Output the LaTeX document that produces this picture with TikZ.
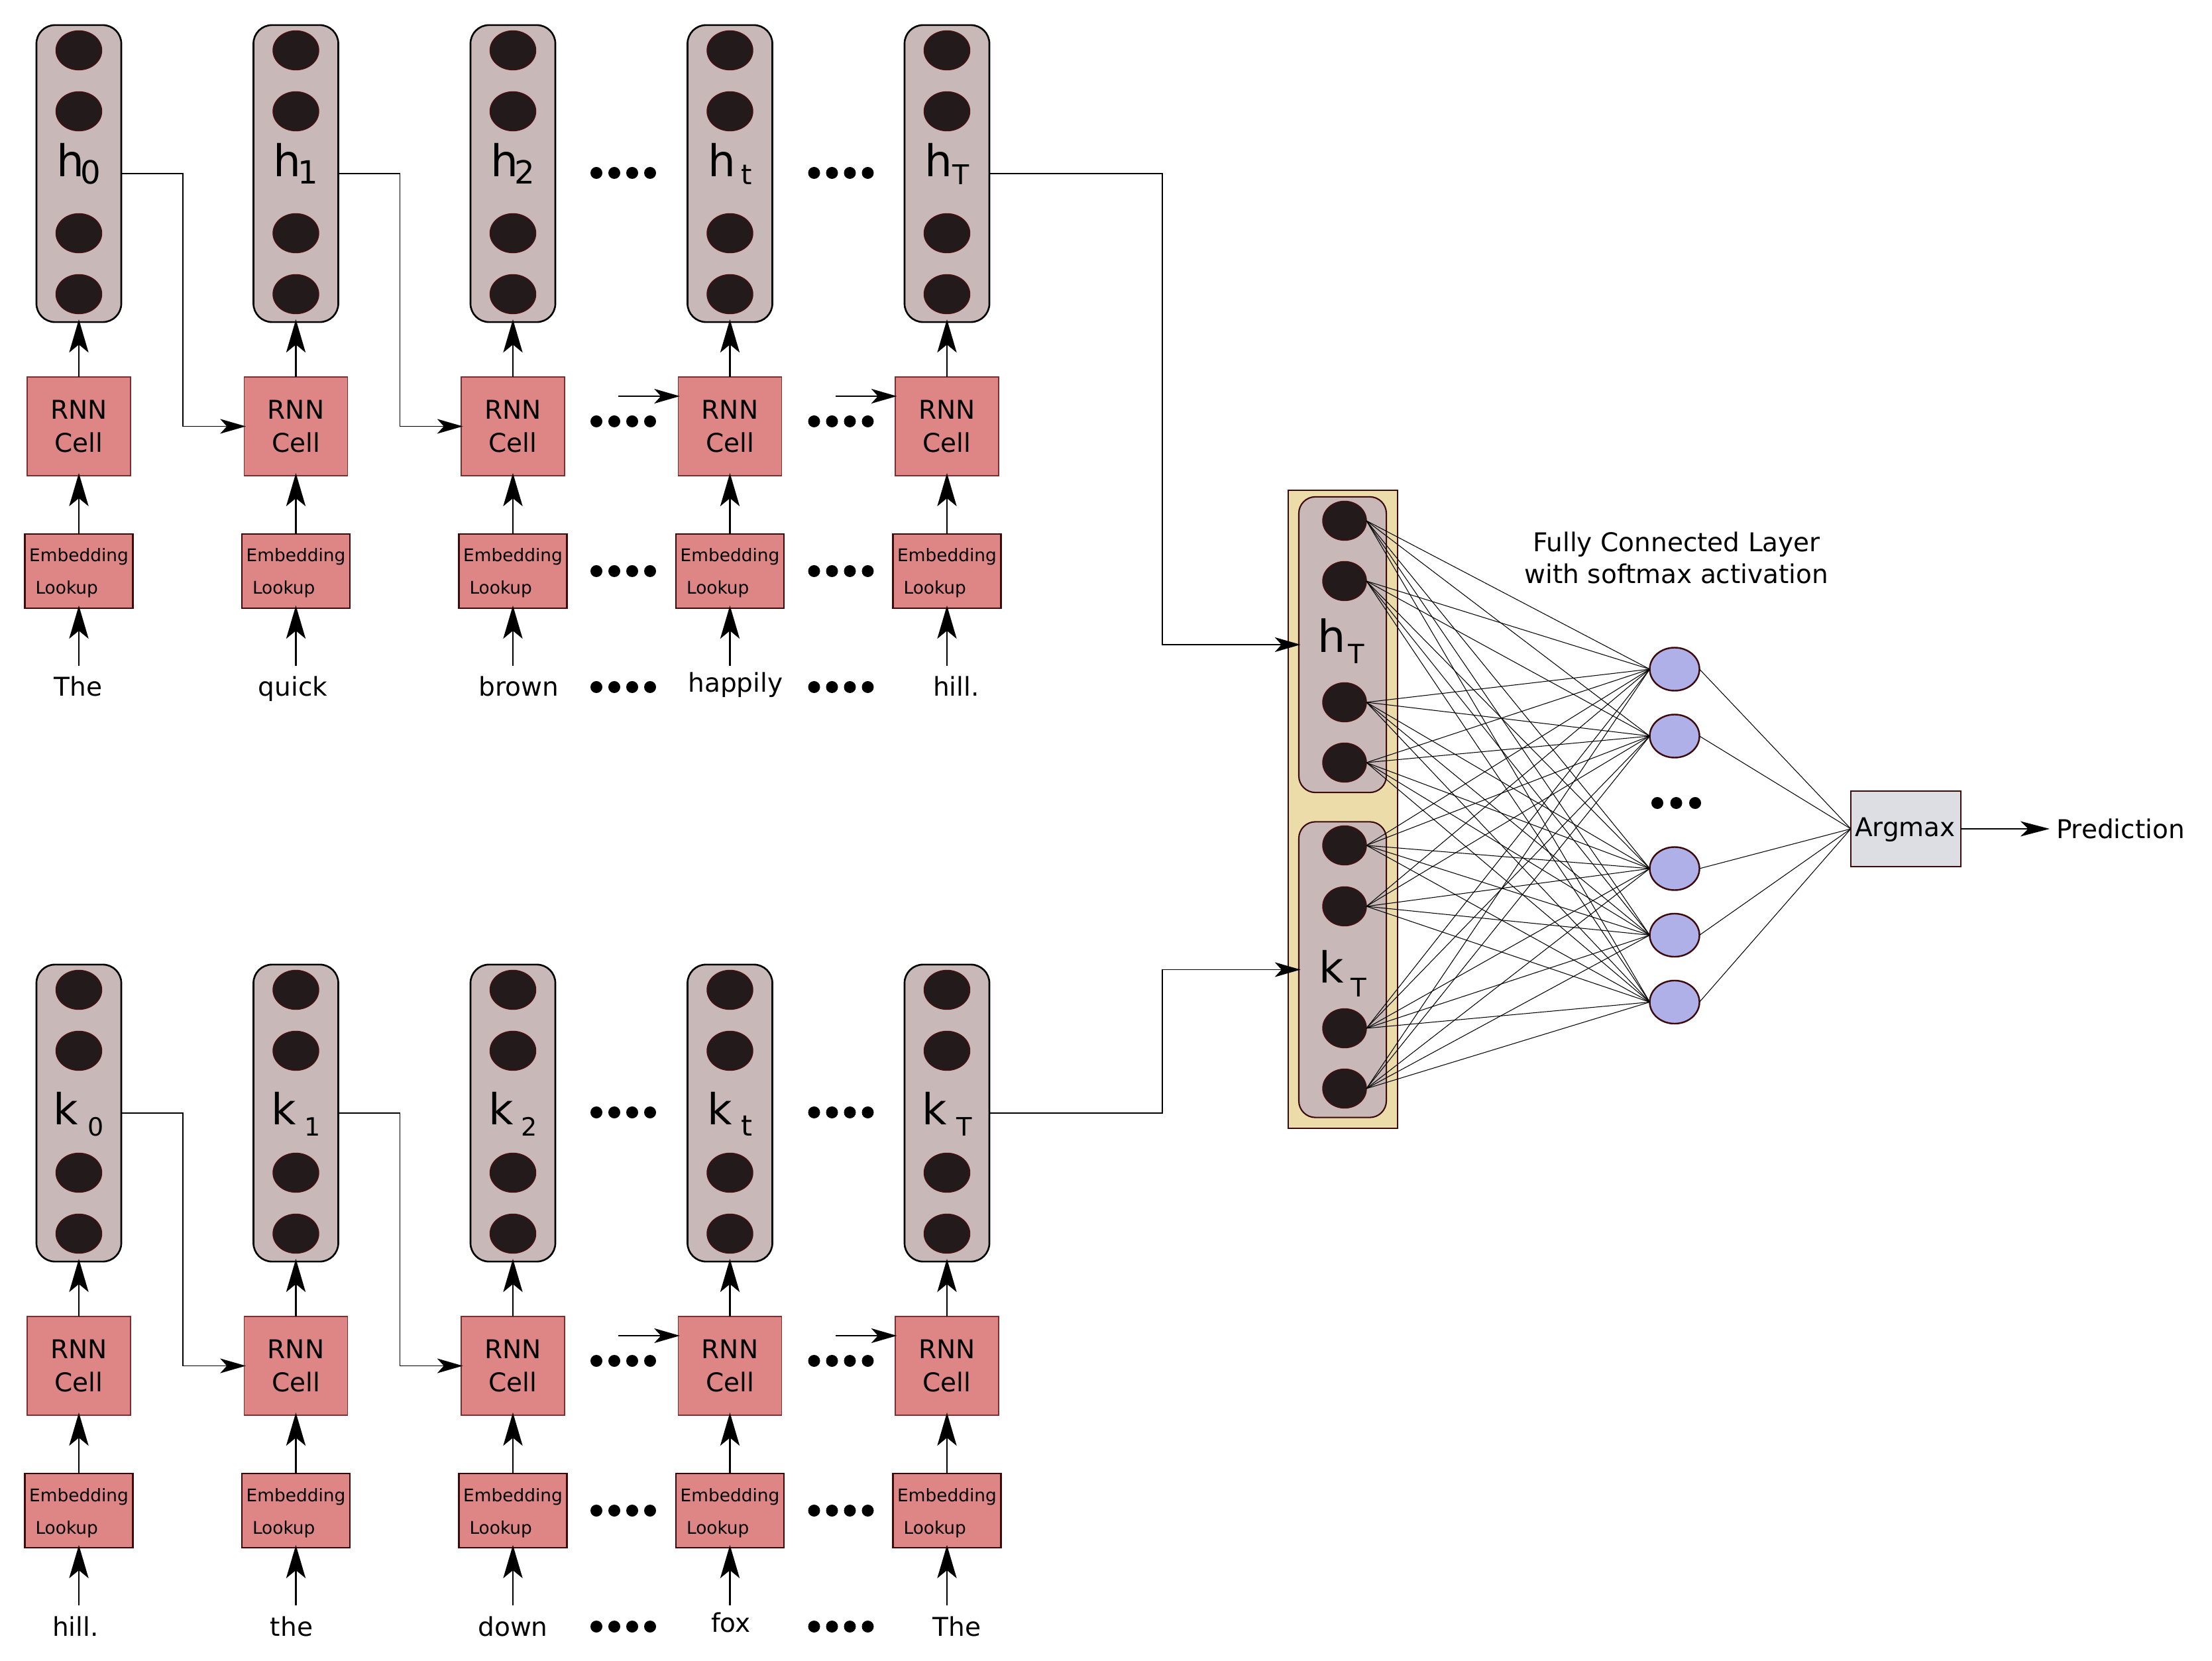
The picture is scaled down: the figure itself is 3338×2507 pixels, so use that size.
\documentclass[tikz,border=0pt]{standalone}
\usepackage{fontspec}
\setmainfont{DejaVu Sans}
\usetikzlibrary{arrows.meta,shapes.geometric}
\definecolor{memgray}{HTML}{C8B8B8}
\definecolor{neuron}{HTML}{231A1C}
\definecolor{neuronedge}{HTML}{4A0E0E}
\definecolor{rnnpink}{HTML}{DE8686}
\definecolor{rnnedge}{HTML}{7A3030}
\definecolor{darkmaroon}{HTML}{3C0A0A}
\definecolor{tanfill}{HTML}{ECDCAA}
\definecolor{outblue}{HTML}{AFB0E8}
\definecolor{argbg}{HTML}{DCDEE3}
\newcommand{\memlbl}[6]{{\fontsize{#1}{#1}\selectfont #2\hspace{#3}\raisebox{-#5}{\fontsize{#4}{#4}\selectfont #6}}}
\tikzset{
  every node/.style={inner sep=0pt, outer sep=0pt},
  membox/.style={draw=black, line width=0.75pt, fill=memgray, rounded corners=0.28cm, minimum width=1.28cm, minimum height=4.48cm},
  innerbox/.style={draw=darkmaroon, line width=0.6pt, fill=memgray, rounded corners=0.25cm, minimum width=1.32cm, minimum height=4.46cm},
  tanbox/.style={draw=darkmaroon, line width=0.6pt, fill=tanfill, minimum width=1.65cm, minimum height=9.63cm},
  neuronnode/.style={ellipse, draw=neuronedge, line width=0.4pt, fill=neuron, minimum width=0.69cm, minimum height=0.59cm},
  neuronsmall/.style={ellipse, draw=neuronedge, line width=0.4pt, fill=neuron, minimum width=0.66cm, minimum height=0.59cm},
  rnnbox/.style={draw=rnnedge, line width=0.35pt, fill=rnnpink, minimum width=1.56cm, minimum height=1.49cm, align=center, font=\fontsize{11.1pt}{14.2pt}\selectfont},
  embbox/.style={draw=darkmaroon, line width=0.65pt, fill=rnnpink, minimum width=1.63cm, minimum height=1.12cm},
  embtxt/.style={font=\fontsize{7.5pt}{9pt}\selectfont},
  wordtxt/.style={font=\fontsize{11.1pt}{13pt}\selectfont},
  outnode/.style={ellipse, draw=darkmaroon, line width=0.7pt, fill=outblue, minimum width=0.75cm, minimum height=0.65cm},
  argbox/.style={draw=darkmaroon, line width=0.6pt, fill=argbg, minimum width=1.66cm, minimum height=1.14cm},
  uparrow/.style={-{Stealth[length=14.2pt,width=8.3pt,inset=3.4pt]}, line width=0.72pt, shorten >=-0.04cm},
  thinarrow/.style={-{Stealth[length=11pt,width=6.3pt,inset=2.85pt]}, line width=0.5pt, shorten >=-0.025cm},
  predarrow/.style={-{Stealth[length=12.5pt,width=6.5pt,inset=3.3pt]}, line width=0.65pt},
  fcline/.style={line width=0.3pt, draw=black},
  dotfill/.style={fill=black}
}
\begin{document}
\begin{tikzpicture}[x=0.01cm, y=-0.01cm]
\useasboundingbox (0,0) rectangle (3338,2507);

% ---------- two encoder rows ----------
\foreach \rw/\dy in {t/0, b/1418} {
  \foreach \i in {0,...,4} {
    \pgfmathsetmacro\cx{119+327.5*\i}
    \node[membox] (mem\rw\i) at (\cx, 262+\dy) {};
    \foreach \jj/\yy in {1/76, 2/168, 3/352, 4/444} {
      \node[neuronnode] (n\rw\i\jj) at (\cx, \yy+\dy) {};
    }
    \node[rnnbox] (rnn\rw\i) at (\cx, 643.5+\dy) {RNN\\Cell};
    \node[embbox] (emb\rw\i) at (\cx, 862+\dy) {};
    \node[embtxt, anchor=base] (embA\rw\i) at (\cx, 848+\dy) {Embedding};
    \node[embtxt, anchor=base west] (embB\rw\i) at (\cx-65.5, 897+\dy) {Lookup};
    \coordinate (in\rw\i) at (\cx, 1005+\dy);
    \draw[uparrow] (rnn\rw\i.north) -- (mem\rw\i.south);
    \draw[uparrow] (emb\rw\i.north) -- (rnn\rw\i.south);
    \draw[uparrow] (in\rw\i) -- (emb\rw\i.south);
  }
  % recurrent connections
  \draw[thinarrow] (mem\rw0.east) -- ++(93,0) |- (rnn\rw1.west);
  \draw[thinarrow] (mem\rw1.east) -- ++(93,0) |- (rnn\rw2.west);
  \coordinate (sa\rw) at (933, 598+\dy);
  \coordinate (sb\rw) at (1261, 598+\dy);
  \draw[thinarrow] (sa\rw) -- (sa\rw -| rnn\rw3.west);
  \draw[thinarrow] (sb\rw) -- (sb\rw -| rnn\rw4.west);
  % ellipsis dots
  \foreach \xc in {940.5, 1269} {
    \foreach \yy in {261, 636, 862, 1037} {
      \foreach \kk in {-40.5, -13.5, 13.5, 40.5} {
        \fill[dotfill] (\xc+\kk, \yy+\dy) circle[radius=0.09cm];
      }
    }
  }
}

% ---------- labels of the hidden states ----------
\node[anchor=base] (lt0) at (119, 267) {\memlbl{18.8pt}{h}{-1.5pt}{13.7pt}{2.85pt}{0}};
\node[anchor=base] (lt1) at (446.5, 267) {\memlbl{18.8pt}{h}{-1.5pt}{13.7pt}{2.85pt}{1}};
\node[anchor=base] (lt2) at (774, 267) {\memlbl{18.8pt}{h}{-1.5pt}{13.7pt}{2.85pt}{2}};
\node[anchor=base] (lt3) at (1101.5, 267) {\memlbl{18.8pt}{h}{2.3pt}{11.9pt}{3.4pt}{t}};
\node[anchor=base] (lt4) at (1429, 267) {\memlbl{18.8pt}{h}{0pt}{11.7pt}{3.4pt}{T}};
\node[anchor=base] (lb0) at (119, 1697) {\memlbl{18.4pt}{k}{4.1pt}{10.8pt}{5.1pt}{0}};
\node[anchor=base] (lb1) at (446.5, 1697) {\memlbl{18.4pt}{k}{3.7pt}{10.8pt}{5.1pt}{1}};
\node[anchor=base] (lb2) at (774, 1697) {\memlbl{18.4pt}{k}{3.1pt}{10.8pt}{5.1pt}{2}};
\node[anchor=base] (lb3) at (1101.5, 1697) {\memlbl{18.4pt}{k}{4pt}{12.3pt}{5.1pt}{t}};
\node[anchor=base] (lb4) at (1429, 1697) {\memlbl{18.4pt}{k}{4.3pt}{10.9pt}{5.1pt}{T}};

% ---------- input words ----------
\node[wordtxt, anchor=base] (wt0) at (118, 1051) {The};
\node[wordtxt, anchor=base] (wt1) at (442, 1051) {quick};
\node[wordtxt, anchor=base] (wt2) at (783, 1051) {brown};
\node[wordtxt, anchor=base] (wt3) at (1110, 1045) {happily};
\node[wordtxt, anchor=base] (wt4) at (1443, 1051) {hill.};
\node[wordtxt, anchor=base] (wb0) at (114, 2469) {hill.};
\node[wordtxt, anchor=base] (wb1) at (440, 2469) {the};
\node[wordtxt, anchor=base] (wb2) at (774, 2469) {down};
\node[wordtxt, anchor=base] (wb3) at (1103, 2463) {fox};
\node[wordtxt, anchor=base] (wb4) at (1444, 2469) {The};

% ---------- concatenated state ----------
\node[tanbox] (tan) at (2026.5, 1221.5) {};
\node[innerbox] (hin) at (2026, 973) {};
\node[innerbox] (kin) at (2026, 1463.5) {};
\foreach \jj/\yy in {1/786, 2/877, 3/1060, 4/1151, 5/1276, 6/1368, 7/1552, 8/1643} {
  \node[neuronsmall] (f\jj) at (2029, \yy) {};
}
\node[anchor=base] (lhT) at (2024, 985) {\memlbl{19pt}{h}{1pt}{11.4pt}{4.8pt}{T}};
\node[anchor=base] (lkT) at (2026, 1484) {\memlbl{18.4pt}{k}{3.1pt}{11pt}{5.7pt}{T}};
\draw[thinarrow] (memt4.east) -- ++(261,0) |- (hin.west);
\draw[thinarrow] (memb4.east) -- ++(261,0) |- (kin.west);

% ---------- output layer ----------
\foreach \jj/\yy in {1/1010, 2/1111, 3/1311, 4/1411.5, 5/1512.5} {
  \node[outnode] (o\jj) at (2527, \yy) {};
}
\foreach \xc in {2501, 2529.5, 2558} {
  \fill[dotfill] (\xc, 1212) circle[radius=0.09cm];
}
\foreach \aa in {1,...,8} {
  \foreach \bb in {1,...,5} {
    \draw[fcline] (f\aa.east) -- (o\bb.west);
  }
}
\node[font=\fontsize{11.1pt}{13.9pt}\selectfont, align=center] (fctxt) at (2530, 842) {Fully Connected Layer\\with softmax activation};

\node[argbox] (argmax) at (2876, 1251) {};
\node[wordtxt, anchor=base] (argtxt) at (2875, 1263) {Argmax};
\foreach \bb in {1,...,5} {
  \draw[fcline] (o\bb.east) -- (argmax.west);
}
\node[wordtxt, anchor=west] (pred) at (3103, 1251) {Prediction};
\draw[predarrow, shorten >=0.1cm] (argmax.east) -- (pred.west);
\end{tikzpicture}
\end{document}
